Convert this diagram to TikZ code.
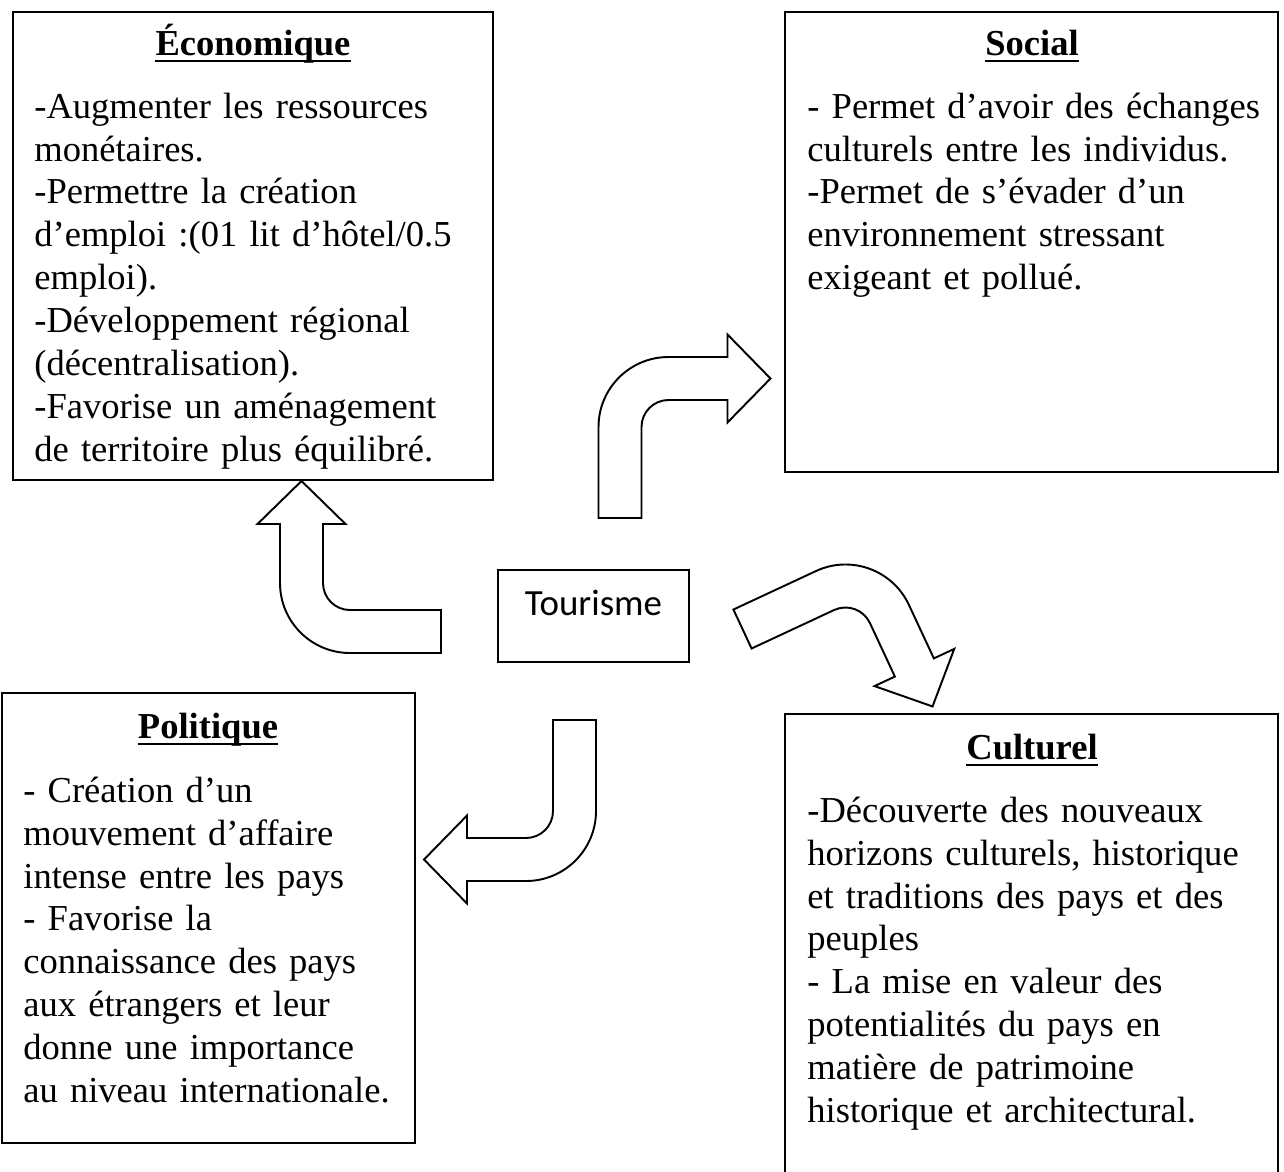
\documentclass[tikz,border=0pt]{standalone}
\usepackage{fontspec}
\setmainfont{Liberation Serif}[Ligatures=NoCommon]
\newfontfamily\calibri{Carlito}
\newcommand\bentarrow{(0,-21.5) -- (91,-21.5) arc (-90:0:70) -- (161,107.5) -- (183.5,107.5)
  -- (139.5,150.5) -- (95.5,107.5) -- (118,107.5) -- (118,48.5) arc (0:-90:27) -- (0,21.5) -- cycle}

\begin{document}
\begin{tikzpicture}[x=0.02cm,y=-0.02cm]
    \tikzstyle{pane}=[draw=black, rectangle, line width=1.3pt, inner sep=0pt]
    \tikzstyle{heading}=[anchor=base, inner sep=0pt, font=\fontsize{20.8}{24.47}\selectfont\bfseries]
    \tikzstyle{txt}=[anchor=base west, inner sep=0pt, text width=9.6cm, align=left, font=\fontsize{20.8}{24.47}\selectfont]
    \tikzstyle{barrow}=[draw=black, line width=1.1pt, fill=white, line join=miter]
    \tikzstyle{uline}=[line width=1.6pt]

    \useasboundingbox (0,0) rectangle (1284,1171);

    \node[pane, minimum width=9.6cm, minimum height=9.36cm] (eco) at (253,246) {};
    \node[pane, minimum width=9.86cm, minimum height=9.2cm] (soc) at (1031.5,242) {};
    \node[pane, minimum width=8.26cm, minimum height=9cm] (pol) at (208.5,918) {};
    \node[pane, minimum width=9.86cm, minimum height=9.52cm] (cul) at (1031.5,952) {};
    \node[pane, minimum width=3.82cm, minimum height=1.84cm] (tour) at (593.5,616) {};

    \node[heading] (ecot) at (253,55)   {Économique};
    \node[heading] (soct) at (1032,55)  {Social};
    \node[heading] (polt) at (208,738)  {Politique};
    \node[heading] (cult) at (1032,759) {Culturel};
    \node[anchor=base, inner sep=0pt, font=\fontsize{21}{24.47}\selectfont\calibri] (tourt) at (593.5,615) {Tourisme};

    \draw[uline] ([yshift=-0.12cm]ecot.base west) -- ([yshift=-0.12cm]ecot.base east);
    \draw[uline] ([yshift=-0.12cm]soct.base west) -- ([yshift=-0.12cm]soct.base east);
    \draw[uline] ([yshift=-0.12cm]polt.base west) -- ([yshift=-0.12cm]polt.base east);
    \draw[uline] ([yshift=-0.12cm]cult.base west) -- ([yshift=-0.12cm]cult.base east);

    \node[txt] (ecox) at (34,118) {-Augmenter les ressources\\ monétaires.\\ -Permettre la création\\
      d’emploi :(01 lit d’hôtel/0.5\\ emploi).\\ -Développement régional\\ (décentralisation).\\
      -Favorise un aménagement\\ de territoire plus équilibré.};
    \node[txt] (socx) at (807,118) {- Permet d’avoir des échanges\\ culturels entre les individus.\\
      -Permet de s’évader d’un\\ environnement stressant\\ exigeant et pollué.};
    \node[txt] (polx) at (23,802) {- Création d’un\\ mouvement d’affaire\\ intense entre les pays\\
      - Favorise la\\ connaissance des pays\\ aux étrangers et leur\\ donne une importance\\
      au niveau internationale.};
    \node[txt] (culx) at (807,822) {-Découverte des nouveaux\\ horizons culturels, historique\\
      et traditions des pays et des\\ peuples\\ - La mise en valeur des\\ potentialités du pays en\\
      matière de patrimoine\\ historique et architectural.};

    \coordinate (ecotail) at (441,631.5);
    \coordinate (soctail) at (620,518);
    \coordinate (poltail) at (574.5,720);
    \coordinate (cultail) at (742.5,629);

    \draw[barrow, shift={(ecotail)}, rotate=180] \bentarrow;
    \draw[barrow, shift={(soctail)}, rotate=90]  \bentarrow;
    \draw[barrow, shift={(poltail)}, rotate=-90] \bentarrow;
    \draw[barrow, shift={(cultail)}, rotate=25]  \bentarrow;
\end{tikzpicture}
\end{document}
